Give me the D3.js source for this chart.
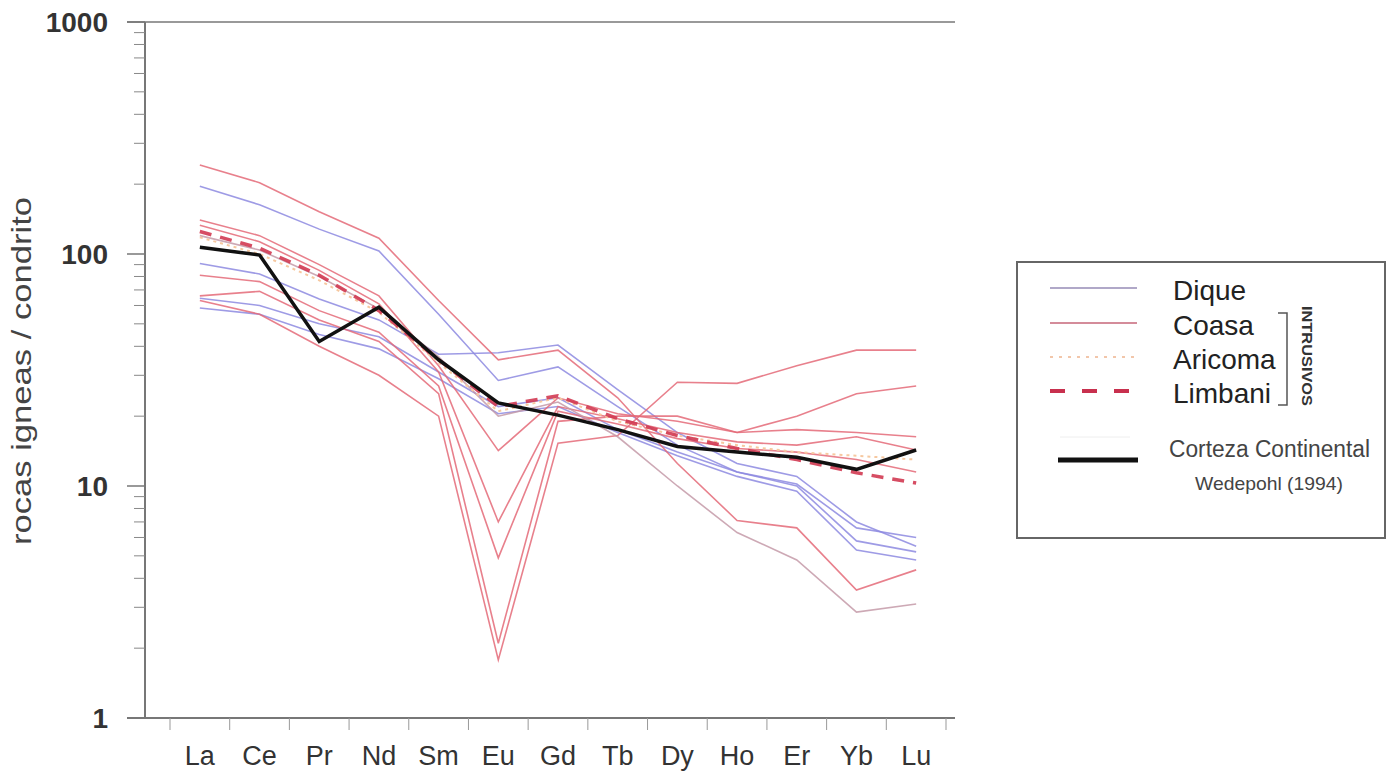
<!DOCTYPE html>
<html>
<head>
<meta charset="utf-8">
<script src="https://cdn.jsdelivr.net/npm/d3@7"></script>
<style>
  body { margin: 0; background: #fff; }
  svg { display: block; font-family: "Liberation Sans", Arial, sans-serif; }
</style>
</head>
<body>
<svg width="1394" height="771"></svg>
<script>
var svg = d3.select("svg"),
	width = +svg.attr("width"),
	height = +svg.attr("height");

//rare earth elements on the x axis
var elements = ["La", "Ce", "Pr", "Nd", "Sm", "Eu", "Gd", "Tb", "Dy", "Ho", "Er", "Yb", "Lu"];

//y axis ticks
var yTicks = [1, 10, 100, 1000];

//dique samples (normalised to chondrite)
var dique = [
	[196, 163, 128, 103, 55, 28.5, 32.6, 22, 15, 11.5, 10.2, 6.6, 6.0],
	[91, 82, 64, 52, 37, 37.5, 40.5, 26, 17, 12.5, 11, 7.0, 5.5],
	[64.5, 60, 50, 44, 31, 22, 24, 17.5, 14, 11.5, 10, 5.8, 5.2],
	[58.5, 55, 45, 39, 29, 20.5, 22, 17, 13.5, 11, 9.5, 5.3, 4.8]
];

//coasa samples
var coasa = [
	[242, 203, 152, 117, 63, 35, 38.5, 24, 12.5, 7.1, 6.6, 3.56, 4.35],
	[140, 120, 90, 66, 33, 14.2, 24, 20.5, 19, 17, 17.5, 17, 16.3],
	[133, 113, 85, 61, 31, 7, 22, 19.5, 17, 15.5, 15, 16.3, 14.3],
	[81, 76, 57, 46, 27, 4.9, 21, 18.5, 16, 14.5, 14, 13, 11.5],
	[66, 69, 52, 42, 25, 2.1, 19, 20, 20, 17, 20, 25, 27],
	[63, 55, 40, 30, 20, 1.78, 15.3, 16.5, 28, 27.7, 33, 38.5, 38.5],
	[120, 104, 80, 58, 36, 20, 23, 16.3, 10, 6.3, 4.8, 2.86, 3.1]
];

//aricoma samples
var aricoma = [
	[118, 100, 77, 56, 34, 21, 24, 19, 16.5, 15, 14, 13.5, 13]
];

//limbani samples
var limbani = [
	[125, 106, 81, 57, 35, 22, 24.5, 19.5, 16.5, 14.5, 13, 11.4, 10.3]
];

//continental crust, Wedepohl (1994)
var corteza = [107, 99, 42, 59, 35, 22.8, 20.2, 17.5, 14.8, 14, 13.3, 11.8, 14.3];

//scales
var x = d3.scaleBand()
	.domain(elements)
	.range([170, 946])
	.padding(0);

var y = d3.scaleLog()
	.domain([1, 1000])
	.range([718, 22]);

var axisColor = "#777";

var line = d3.line()
	.x(function (d, i) { return x(elements[i]) + x.bandwidth() / 2; })
	.y(function (d) { return y(d); });

//---------- axes ----------
var g = svg.append("g");

//left axis line
g.append("line")
	.attr("x1", 145).attr("x2", 145)
	.attr("y1", y(1000)).attr("y2", y(1))
	.style("stroke", axisColor)
	.attr("stroke-width", 2);

//bottom axis line and top line
g.append("line")
	.attr("x1", 127).attr("x2", 955)
	.attr("y1", y(1)).attr("y2", y(1))
	.style("stroke", axisColor)
	.attr("stroke-width", 2);

g.append("line")
	.attr("x1", 127).attr("x2", 955)
	.attr("y1", y(1000)).attr("y2", y(1000))
	.style("stroke", axisColor)
	.attr("stroke-width", 1.5);

//minor ticks on the log axis
var minor = [];
for (var dec = 1; dec < 1000; dec *= 10) {
	for (var m = 2; m < 10; m++) minor.push(dec * m);
}

g.selectAll(".minor")
	.data(minor)
	.enter().append("line")
	.attr("class", "minor")
	.attr("x1", 134).attr("x2", 145)
	.attr("y1", function (d) { return y(d); })
	.attr("y2", function (d) { return y(d); })
	.style("stroke", "#888")
	.attr("stroke-width", 1);

//major ticks and labels
g.selectAll(".major")
	.data(yTicks)
	.enter().append("line")
	.attr("class", "major")
	.attr("x1", 127).attr("x2", 145)
	.attr("y1", function (d) { return y(d); })
	.attr("y2", function (d) { return y(d); })
	.style("stroke", axisColor)
	.attr("stroke-width", 1.5);

g.selectAll(".ylabel")
	.data(yTicks)
	.enter().append("text")
	.attr("class", "ylabel")
	.attr("x", 108)
	.attr("y", function (d) { return y(d); })
	.attr("dy", "0.36em")
	.attr("text-anchor", "end")
	.attr("font-size", 28)
	.attr("font-weight", "bold")
	.style("fill", "#333")
	.text(function (d) { return d; });

//x ticks between the categories
var xTicks = elements.map(function (d) { return x(d); }).concat([x.range()[1]]);

g.selectAll(".xtick")
	.data(xTicks)
	.enter().append("line")
	.attr("class", "xtick")
	.attr("x1", function (d) { return d; })
	.attr("x2", function (d) { return d; })
	.attr("y1", y(1)).attr("y2", y(1) + 12)
	.style("stroke", "#999")
	.attr("stroke-width", 1);

g.selectAll(".xlabel")
	.data(elements)
	.enter().append("text")
	.attr("class", "xlabel")
	.attr("x", function (d) { return x(d) + x.bandwidth() / 2; })
	.attr("y", 765)
	.attr("text-anchor", "middle")
	.attr("font-size", 27)
	.style("fill", "#333")
	.text(function (d) { return d; });

//y axis title
g.append("text")
	.attr("transform", "translate(31,371) rotate(-90)")
	.attr("text-anchor", "middle")
	.attr("font-size", 28)
	.attr("textLength", 348)
	.attr("lengthAdjust", "spacingAndGlyphs")
	.style("fill", "#444")
	.text("rocas igneas / condrito");

//---------- data lines ----------
var lines = svg.append("g");

lines.selectAll(".dique")
	.data(dique)
	.enter().append("path")
	.attr("class", "dique")
	.attr("d", line)
	.style("fill", "none")
	.style("stroke", "#8d8ae0")
	.attr("stroke-opacity", 0.85)
	.attr("stroke-width", 1.6);

lines.selectAll(".coasa")
	.data(coasa)
	.enter().append("path")
	.attr("class", "coasa")
	.attr("d", line)
	.style("fill", "none")
	.style("stroke", function (d, i) { return i == 6 ? "#c49aa8" : "#e46a78"; })
	.attr("stroke-opacity", 0.85)
	.attr("stroke-width", 1.6);

lines.selectAll(".aricoma")
	.data(aricoma)
	.enter().append("path")
	.attr("class", "aricoma")
	.attr("d", line)
	.style("fill", "none")
	.style("stroke", "#f6c8a0")
	.attr("stroke-width", 2)
	.attr("stroke-dasharray", "3,4");

lines.selectAll(".limbani")
	.data(limbani)
	.enter().append("path")
	.attr("class", "limbani")
	.attr("d", line)
	.style("fill", "none")
	.style("stroke", "#d23a52")
	.attr("stroke-opacity", 0.9)
	.attr("stroke-width", 3.5)
	.attr("stroke-dasharray", "12,9");

lines.append("path")
	.datum(corteza)
	.attr("d", line)
	.style("fill", "none")
	.style("stroke", "#111")
	.attr("stroke-width", 3.5)
	.attr("stroke-linejoin", "miter");

//---------- legend ----------
var legend = svg.append("g");

legend.append("rect")
	.attr("x", 1017).attr("y", 262)
	.attr("width", 368).attr("height", 276)
	.style("fill", "#fff")
	.style("stroke", "#666")
	.attr("stroke-width", 2);

var legendItems = [
	{ name: "Dique", y: 288, color: "#b0a8c8", width: 2, dash: null },
	{ name: "Coasa", y: 323, color: "#d48c9a", width: 2, dash: null },
	{ name: "Aricoma", y: 357, color: "#f2c6aa", width: 2, dash: "3,6" },
	{ name: "Limbani", y: 391, color: "#c8304e", width: 4, dash: "15,17" }
];

legend.selectAll(".key")
	.data(legendItems)
	.enter().append("line")
	.attr("class", "key")
	.attr("x1", 1050).attr("x2", 1137)
	.attr("y1", function (d) { return d.y; })
	.attr("y2", function (d) { return d.y; })
	.style("stroke", function (d) { return d.color; })
	.attr("stroke-width", function (d) { return d.width; })
	.attr("stroke-dasharray", function (d) { return d.dash; });

legend.selectAll(".keytext")
	.data(legendItems)
	.enter().append("text")
	.attr("class", "keytext")
	.attr("x", 1173)
	.attr("y", function (d) { return d.y + 12; })
	.attr("font-size", 28)
	.style("fill", "#222")
	.text(function (d) { return d.name; });

//bracket for the intrusive units
legend.append("path")
	.attr("d", "M1278,313H1287V405H1278")
	.style("fill", "none")
	.style("stroke", "#555")
	.attr("stroke-width", 1.5);

legend.append("text")
	.attr("transform", "translate(1302,306) rotate(90)")
	.attr("font-size", 14)
	.attr("font-weight", "bold")
	.attr("textLength", 100)
	.attr("lengthAdjust", "spacingAndGlyphs")
	.style("fill", "#333")
	.text("INTRUSIVOS");

//continental crust key
legend.append("line")
	.attr("x1", 1060).attr("x2", 1130)
	.attr("y1", 437).attr("y2", 437)
	.style("stroke", "#eee")
	.attr("stroke-width", 1);

legend.append("line")
	.attr("x1", 1058).attr("x2", 1138)
	.attr("y1", 460).attr("y2", 460)
	.style("stroke", "#111")
	.attr("stroke-width", 5);

legend.append("text")
	.attr("x", 1169).attr("y", 457)
	.attr("font-size", 23)
	.attr("textLength", 201)
	.attr("lengthAdjust", "spacingAndGlyphs")
	.style("fill", "#444")
	.text("Corteza Continental");

legend.append("text")
	.attr("x", 1195).attr("y", 490)
	.attr("font-size", 19)
	.attr("textLength", 148)
	.attr("lengthAdjust", "spacingAndGlyphs")
	.style("fill", "#444")
	.text("Wedepohl (1994)");
</script>
</body>
</html>
